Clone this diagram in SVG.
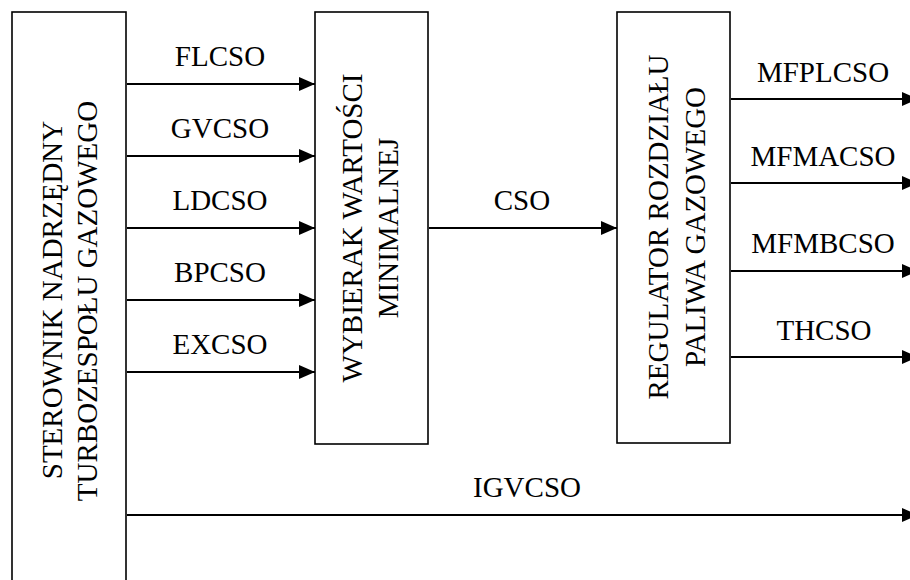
<svg xmlns="http://www.w3.org/2000/svg" width="910" height="580" viewBox="0 0 910 580">
<style>
.box{fill:#fff;stroke:#000;stroke-width:1.6}
.ln{stroke:#000;stroke-width:2;fill:none;marker-end:url(#ah)}
.c{text-anchor:middle}
</style>
<defs>
<marker id="ah" markerUnits="userSpaceOnUse" markerWidth="16" markerHeight="14" refX="16" refY="7" orient="auto">
<path d="M0,0 L16,7 L0,14 z" fill="#000"/>
</marker>
</defs>
<rect width="910" height="580" fill="#fff"/>
<g font-family="'Liberation Serif', 'Times New Roman', Times, 'DejaVu Serif', serif" font-size="29" fill="#000">
<g id="sterownik">
<rect class="box" x="12" y="12" width="114" height="590"/>
<text class="c" transform="translate(62,300) rotate(-90)">STEROWNIK NADRZĘDNY</text>
<text class="c" transform="translate(97,301) rotate(-90)">TURBOZESPOŁU GAZOWEGO</text>
</g>
<g id="wybierak">
<rect class="box" x="315" y="12" width="113" height="432"/>
<text class="c" transform="translate(362,228) rotate(-90)">WYBIERAK WARTOŚCI</text>
<text class="c" transform="translate(398,228) rotate(-90)">MINIMALNEJ</text>
</g>
<g id="regulator">
<rect class="box" x="617" y="12" width="113" height="431"/>
<text class="c" transform="translate(668,227) rotate(-90)">REGULATOR ROZDZIAŁU</text>
<text class="c" transform="translate(705,227) rotate(-90)">PALIWA GAZOWEGO</text>
</g>
<g id="connectors">
<line class="ln" x1="127" y1="84" x2="315" y2="84"/>
<line class="ln" x1="127" y1="156" x2="315" y2="156"/>
<line class="ln" x1="127" y1="228" x2="315" y2="228"/>
<line class="ln" x1="127" y1="300" x2="315" y2="300"/>
<line class="ln" x1="127" y1="372" x2="315" y2="372"/>
<line class="ln" x1="429" y1="228" x2="617" y2="228"/>
<line class="ln" x1="731" y1="99" x2="918" y2="99"/>
<line class="ln" x1="731" y1="183" x2="918" y2="183"/>
<line class="ln" x1="731" y1="271" x2="918" y2="271"/>
<line class="ln" x1="731" y1="357" x2="918" y2="357"/>
<line class="ln" x1="127" y1="515" x2="918" y2="515"/>
</g>
<g id="labels">
<text class="c" x="220" y="66">FLCSO</text>
<text class="c" x="220" y="138">GVCSO</text>
<text class="c" x="220" y="210">LDCSO</text>
<text class="c" x="220" y="282">BPCSO</text>
<text class="c" x="220" y="354">EXCSO</text>
<text class="c" x="522" y="210">CSO</text>
<text class="c" x="823" y="82">MFPLCSO</text>
<text class="c" x="823" y="166">MFMACSO</text>
<text class="c" x="823" y="253">MFMBCSO</text>
<text class="c" x="824" y="340">THCSO</text>
<text class="c" x="527" y="497">IGVCSO</text>
</g>
</g>
</svg>
